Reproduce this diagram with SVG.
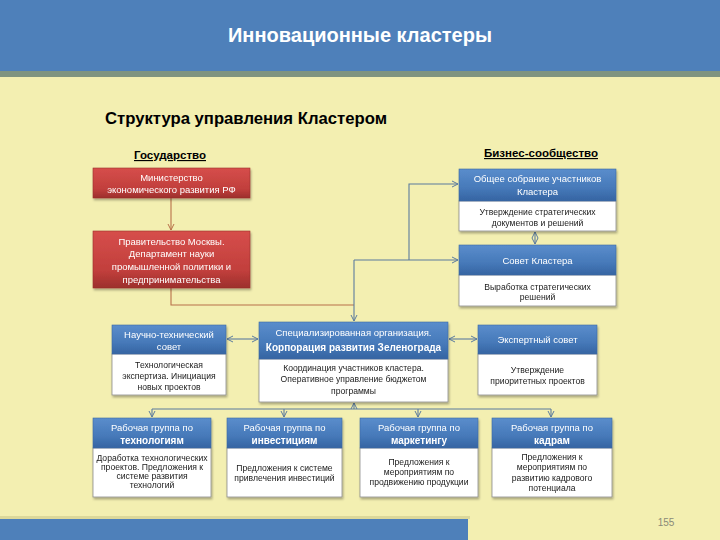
<svg xmlns="http://www.w3.org/2000/svg" width="720" height="540" viewBox="0 0 720 540">
<defs>
<linearGradient id="gBlue" x1="0" y1="0" x2="0" y2="1">
<stop offset="0" stop-color="#5a8dcc"/><stop offset="0.6" stop-color="#4679b9"/><stop offset="1" stop-color="#3564a2"/>
</linearGradient>
<linearGradient id="gRed" x1="0" y1="0" x2="0" y2="1">
<stop offset="0" stop-color="#d64e4b"/><stop offset="0.7" stop-color="#c13f3c"/><stop offset="1" stop-color="#9c2f2c"/>
</linearGradient>
<filter id="sh" x="-10%" y="-10%" width="130%" height="140%">
<feDropShadow dx="1" dy="2" stdDeviation="1.2" flood-color="#000" flood-opacity="0.3"/>
</filter>
<marker id="ar" viewBox="0 0 8 8" refX="7" refY="4" markerWidth="8" markerHeight="8" markerUnits="userSpaceOnUse" orient="auto-start-reverse">
<path d="M1,1 L7,4 L1,7" fill="none" stroke-width="1"/>
</marker>
<marker id="arB" viewBox="0 0 8 8" refX="7" refY="4" markerWidth="8" markerHeight="8" markerUnits="userSpaceOnUse" orient="auto-start-reverse">
<path d="M1,1 L7,4 L1,7" fill="none" stroke="#5b7b9e" stroke-width="1"/>
</marker>
<marker id="arR" viewBox="0 0 8 8" refX="7" refY="4" markerWidth="8" markerHeight="8" markerUnits="userSpaceOnUse" orient="auto-start-reverse">
<path d="M1,1 L7,4 L1,7" fill="none" stroke="#b8704a" stroke-width="1"/>
</marker>
<style>
text{font-family:"Liberation Sans",Arial,sans-serif;}
.hdr{fill:url(#gBlue);stroke:#3d6aa3;stroke-width:0.6;}
.red{fill:url(#gRed);stroke:#9c2f2c;stroke-width:0.6;}
.body{fill:#ffffff;stroke:#8c8c8c;stroke-width:0.8;}
.wt{fill:#ffffff;font-size:9.5px;text-anchor:middle;}
.wb{fill:#ffffff;font-size:10px;font-weight:bold;text-anchor:middle;}
.bt{fill:#1a1a1a;font-size:8.6px;text-anchor:middle;}
.sec{fill:#000;font-size:11.5px;font-weight:bold;text-anchor:middle;text-decoration:underline;}
.cb{fill:none;stroke:#5b7b9e;stroke-width:1.1;}
.cr{fill:none;stroke:#b8704a;stroke-width:1.1;}
</style>
</defs>
<rect x="0" y="0" width="720" height="540" fill="#f3efb1"/>
<rect x="0" y="70" width="720" height="7" fill="#7f9480"/>
<rect x="0" y="0" width="720" height="71" fill="#4e80ba"/>
<text x="360" y="42" fill="#ffffff" font-size="20" font-weight="bold" text-anchor="middle">Инновационные кластеры</text>
<rect x="0" y="516" width="470" height="3" fill="#dcd89a"/>
<rect x="0" y="519" width="468" height="21" fill="#4e80ba"/>
<text x="666" y="526" fill="#8a8a78" font-size="10" text-anchor="middle">155</text>
<text x="105" y="124" fill="#000" font-size="17" font-weight="bold" textLength="282" lengthAdjust="spacingAndGlyphs">Структура управления Кластером</text>
<text class="sec" x="170" y="159">Государство</text>
<text class="sec" x="541" y="157">Бизнес-сообщество</text>

<g id="connectors">
<path class="cr" d="M171,198 V230" marker-end="url(#arR)"/>
<path class="cr" d="M171,288 V305 H354"/>
<path class="cb" d="M354,260 V321" marker-end="url(#arB)"/>
<path class="cb" d="M354,260 H458" marker-end="url(#arB)"/>
<path class="cb" d="M409,260 V184 H458" marker-end="url(#arB)"/>
<path class="cb" d="M535,232 V244" marker-start="url(#arB)" marker-end="url(#arB)"/>
<path class="cb" d="M227,339 H258" marker-start="url(#arB)" marker-end="url(#arB)"/>
<path class="cb" d="M449,339 H477" marker-start="url(#arB)" marker-end="url(#arB)"/>
<path class="cb" d="M354,409 V403" marker-end="url(#arB)"/>
<path class="cb" d="M152,409 H551"/>
<path class="cb" d="M152,409 V417" marker-end="url(#arB)"/>
<path class="cb" d="M284,409 V417" marker-end="url(#arB)"/>
<path class="cb" d="M418,409 V417" marker-end="url(#arB)"/>
<path class="cb" d="M551,409 V417" marker-end="url(#arB)"/>
</g>

<g id="ministry" filter="url(#sh)">
<rect class="red" x="93" y="168" width="157" height="30"/>
<text class="wt" x="171.5" y="181">Министерство</text>
<text class="wt" x="171.5" y="193">экономического развития РФ</text>
</g>
<g id="government" filter="url(#sh)">
<rect class="red" x="93" y="231" width="157" height="57"/>
<text class="wt" x="171.5" y="245">Правительство Москвы.</text>
<text class="wt" x="171.5" y="257">Департамент науки</text>
<text class="wt" x="171.5" y="270">промышленной политики и</text>
<text class="wt" x="171.5" y="283">предпринимательства</text>
</g>

<g id="general-meeting" filter="url(#sh)">
<rect class="body" x="459" y="201" width="157" height="30"/>
<rect class="hdr" x="459" y="169" width="157" height="32"/>
<text class="wt" x="537.5" y="182">Общее собрание участников</text>
<text class="wt" x="537.5" y="195">Кластера</text>
<text class="bt" x="537.5" y="215">Утверждение стратегических</text>
<text class="bt" x="537.5" y="226">документов и решений</text>
</g>
<g id="council" filter="url(#sh)">
<rect class="body" x="459" y="275" width="157" height="31"/>
<rect class="hdr" x="459" y="245" width="157" height="30"/>
<text class="wt" x="537.5" y="264">Совет Кластера</text>
<text class="bt" x="537.5" y="290">Выработка стратегических</text>
<text class="bt" x="537.5" y="300">решений</text>
</g>

<g id="sci-tech" filter="url(#sh)">
<rect class="body" x="112" y="354" width="114" height="41"/>
<rect class="hdr" x="112" y="325" width="114" height="29"/>
<text class="wt" x="169" y="338">Научно-технический</text>
<text class="wt" x="169" y="350">совет</text>
<text class="bt" x="169" y="368">Технологическая</text>
<text class="bt" x="169" y="379">экспертиза. Инициация</text>
<text class="bt" x="169" y="390">новых проектов</text>
</g>
<g id="corporation" filter="url(#sh)">
<rect class="body" x="259" y="359" width="189" height="43"/>
<rect class="hdr" x="259" y="322" width="189" height="37"/>
<text class="wt" x="353.5" y="336">Специализированная организация.</text>
<text class="wb" x="353.5" y="351">Корпорация развития Зеленограда</text>
<text class="bt" x="353.5" y="371">Координация участников кластера.</text>
<text class="bt" x="353.5" y="382">Оперативное управление бюджетом</text>
<text class="bt" x="353.5" y="394">программы</text>
</g>
<g id="expert" filter="url(#sh)">
<rect class="body" x="478" y="354" width="119" height="41"/>
<rect class="hdr" x="478" y="325" width="119" height="29"/>
<text class="wt" x="537.5" y="343">Экспертный совет</text>
<text class="bt" x="537.5" y="373">Утверждение</text>
<text class="bt" x="537.5" y="384">приоритетных проектов</text>
</g>

<g id="wg-tech" filter="url(#sh)">
<rect class="body" x="93" y="448" width="118" height="49"/>
<rect class="hdr" x="93" y="418" width="118" height="30"/>
<text class="wt" x="152" y="431">Рабочая группа по</text>
<text class="wb" x="152" y="444">технологиям</text>
<text class="bt" x="152" y="461">Доработка технологических</text>
<text class="bt" x="152" y="470">проектов. Предложения к</text>
<text class="bt" x="152" y="479">системе развития</text>
<text class="bt" x="152" y="488">технологий</text>
</g>
<g id="wg-invest" filter="url(#sh)">
<rect class="body" x="227" y="448" width="115" height="49"/>
<rect class="hdr" x="227" y="418" width="115" height="30"/>
<text class="wt" x="284.5" y="431">Рабочая группа по</text>
<text class="wb" x="284.5" y="444">инвестициям</text>
<text class="bt" x="284.5" y="471">Предложения к системе</text>
<text class="bt" x="284.5" y="481">привлечения инвестиций</text>
</g>
<g id="wg-marketing" filter="url(#sh)">
<rect class="body" x="360" y="448" width="118" height="49"/>
<rect class="hdr" x="360" y="418" width="118" height="30"/>
<text class="wt" x="419" y="431">Рабочая группа по</text>
<text class="wb" x="419" y="444">маркетингу</text>
<text class="bt" x="419" y="465">Предложения к</text>
<text class="bt" x="419" y="475">мероприятиям по</text>
<text class="bt" x="419" y="485">продвижению продукции</text>
</g>
<g id="wg-staff" filter="url(#sh)">
<rect class="body" x="492" y="448" width="120" height="49"/>
<rect class="hdr" x="492" y="418" width="120" height="30"/>
<text class="wt" x="552" y="431">Рабочая группа по</text>
<text class="wb" x="552" y="444">кадрам</text>
<text class="bt" x="552" y="460">Предложения к</text>
<text class="bt" x="552" y="470">мероприятиям по</text>
<text class="bt" x="552" y="481">развитию кадрового</text>
<text class="bt" x="552" y="491">потенциала</text>
</g>
</svg>
